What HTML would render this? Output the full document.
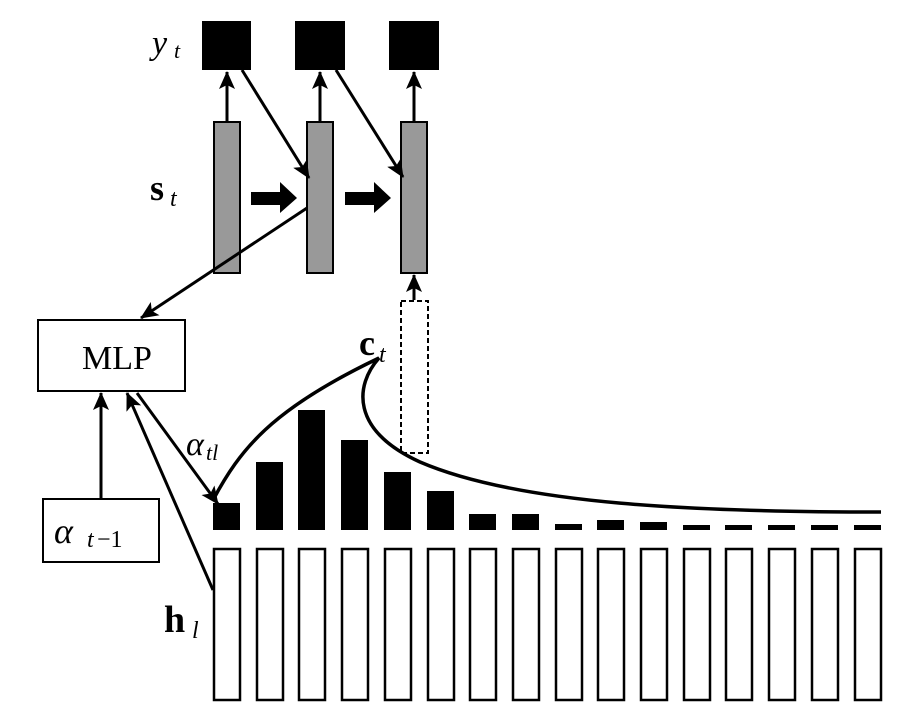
<!DOCTYPE html>
<html><head><meta charset="utf-8"><style>
html,body{margin:0;padding:0;background:#fff;}
svg{display:block;}
text{font-family:"Liberation Serif",serif;fill:#000;}
</style></head><body>
<svg width="910" height="720" viewBox="0 0 910 720" xmlns="http://www.w3.org/2000/svg">
<defs>
<marker id="ah" markerWidth="10" markerHeight="10" refX="9" refY="5" orient="auto" markerUnits="userSpaceOnUse" viewBox="0 0 10 10">
<path d="M0,0 L10,5 L0,10 L2.5,5 z" fill="#000" transform="scale(1)"/>
</marker>
<marker id="ah2" markerWidth="18" markerHeight="16" refX="17" refY="8" orient="auto" markerUnits="userSpaceOnUse">
<path d="M0,0 L18,8 L0,16 L4,8 z" fill="#000"/>
</marker>
</defs>

<!-- y boxes -->
<rect x="202" y="21" width="49" height="49" fill="#000"/>
<rect x="295" y="21" width="50" height="49" fill="#000"/>
<rect x="389" y="21" width="50" height="49" fill="#000"/>

<!-- gray bars -->
<rect x="214" y="122" width="26" height="151" fill="#999" stroke="#000" stroke-width="2"/>
<rect x="307" y="122" width="26" height="151" fill="#999" stroke="#000" stroke-width="2"/>
<rect x="401" y="122" width="26" height="151" fill="#999" stroke="#000" stroke-width="2"/>

<g stroke="#000" stroke-width="3" fill="none">
<line x1="227" y1="122" x2="227" y2="72" marker-end="url(#ah2)"/>
<line x1="320" y1="122" x2="320" y2="72" marker-end="url(#ah2)"/>
<line x1="414" y1="122" x2="414" y2="72" marker-end="url(#ah2)"/>
<line x1="242" y1="70" x2="309" y2="178" marker-end="url(#ah2)"/>
<line x1="336" y1="70" x2="403" y2="177" marker-end="url(#ah2)"/>
<line x1="414" y1="300" x2="414" y2="275" marker-end="url(#ah2)"/>
<line x1="307" y1="208" x2="141" y2="318" marker-end="url(#ah2)"/>
<line x1="101" y1="499" x2="101" y2="393" marker-end="url(#ah2)"/>
<line x1="213" y1="590" x2="127" y2="393" marker-end="url(#ah2)"/>
<line x1="137" y1="393" x2="218" y2="504" marker-end="url(#ah2)"/>
</g>

<!-- thick arrows -->
<path d="M251,192 L280,192 L280,182 L297,198 L280,213 L280,205 L251,205 z" fill="#000"/>
<path d="M345,192 L374,192 L374,182 L391,198 L374,213 L374,205 L345,205 z" fill="#000"/>

<!-- dashed box -->
<rect x="401" y="301" width="27" height="152" fill="none" stroke="#000" stroke-width="2" stroke-dasharray="5,3"/>

<!-- MLP -->
<rect x="38" y="320" width="147" height="71" fill="#fff" stroke="#000" stroke-width="2"/>
<text x="117" y="369" font-size="34" text-anchor="middle">MLP</text>
<rect x="43" y="499" width="116" height="63" fill="#fff" stroke="#000" stroke-width="2"/>
<text x="54" y="543" font-size="36" font-style="italic">α</text>
<text x="87" y="547" font-size="24" font-style="italic">t</text>
<text x="97" y="547" font-size="24">−1</text>

<!-- labels -->
<text x="152" y="54" font-size="34" font-style="italic">y</text>
<text x="174" y="58" font-size="22" font-style="italic">t</text>
<text x="150" y="200" font-size="36" font-weight="bold">s</text>
<text x="170" y="206" font-size="24" font-style="italic">t</text>
<text x="359" y="355" font-size="36" font-weight="bold">c</text>
<text x="379" y="362" font-size="24" font-style="italic">t</text>
<text x="186" y="455" font-size="34" font-style="italic">α</text>
<text x="206" y="460" font-size="22" font-style="italic">tl</text>
<text x="164" y="632" font-size="38" font-weight="bold">h</text>
<text x="192" y="638" font-size="24" font-style="italic">l</text>

<!-- attention weight bars -->
<g fill="#000">
<rect x="213" y="503" width="27" height="27"/>
<rect x="256" y="462" width="27" height="68"/>
<rect x="298" y="410" width="27" height="120"/>
<rect x="341" y="440" width="27" height="90"/>
<rect x="384" y="472" width="27" height="58"/>
<rect x="427" y="491" width="27" height="39"/>
<rect x="469" y="514" width="27" height="16"/>
<rect x="512" y="514" width="27" height="16"/>
<rect x="555" y="524" width="27" height="6"/>
<rect x="597" y="520" width="27" height="10"/>
<rect x="640" y="522" width="27" height="8"/>
<rect x="683" y="525" width="27" height="5"/>
<rect x="725" y="525" width="27" height="5"/>
<rect x="768" y="525" width="27" height="5"/>
<rect x="811" y="525" width="27" height="5"/>
<rect x="854" y="525" width="27" height="5"/>
</g>

<!-- h boxes -->
<g fill="#fff" stroke="#000" stroke-width="2.5">
<rect x="214" y="549" width="26" height="151"/>
<rect x="257" y="549" width="26" height="151"/>
<rect x="299" y="549" width="26" height="151"/>
<rect x="342" y="549" width="26" height="151"/>
<rect x="385" y="549" width="26" height="151"/>
<rect x="428" y="549" width="26" height="151"/>
<rect x="470" y="549" width="26" height="151"/>
<rect x="513" y="549" width="26" height="151"/>
<rect x="556" y="549" width="26" height="151"/>
<rect x="598" y="549" width="26" height="151"/>
<rect x="641" y="549" width="26" height="151"/>
<rect x="684" y="549" width="26" height="151"/>
<rect x="726" y="549" width="26" height="151"/>
<rect x="769" y="549" width="26" height="151"/>
<rect x="812" y="549" width="26" height="151"/>
<rect x="855" y="549" width="26" height="151"/>
</g>

<!-- context curve -->
<path d="M213,500 C240,450 270,410 379,358 C355,385 350,430 420,462 C520,505 700,512 881,512" fill="none" stroke="#000" stroke-width="3.5"/>
</svg>
</body></html>
